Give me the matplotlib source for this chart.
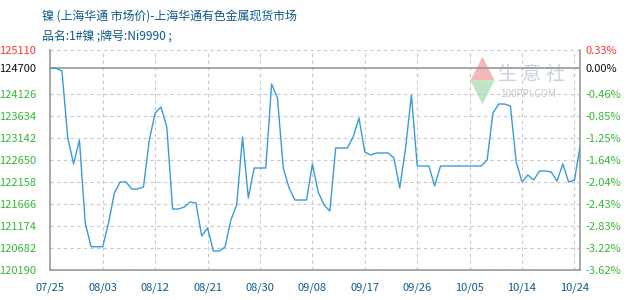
import matplotlib
matplotlib.use("Agg")
import matplotlib.pyplot as plt

plt.rcParams["font.family"] = ["Noto Sans CJK SC", "DejaVu Sans"]

# daily nickel price, 07/25 .. 10/25
values = [
    124700, 124700, 124640, 123142, 122561, 123097, 121241, 120711, 120711, 120711,
    121241, 121912, 122158, 122158, 122001, 122001, 122046, 123097, 123701, 123835,
    123388, 121554, 121554, 121599, 121711, 121689, 120950, 121129, 120615, 120615,
    120704, 121308, 121644, 123164, 121800, 122471, 122471, 122471, 124350, 124037,
    122471, 122024, 121755, 121755, 121755, 122561, 121934, 121644, 121509, 122918,
    122918, 122918, 123164, 123589, 122829, 122762, 122807, 122807, 122807, 122695,
    122024, 122918, 124104, 122516, 122516, 122516, 122069, 122516, 122516, 122516,
    122516, 122516, 122516, 122516, 122516, 122650, 123701, 123902, 123902, 123858,
    122605, 122158, 122315, 122203, 122404, 122404, 122382, 122180, 122561, 122158,
    122203, 122986,
]
tick_labels = ["07/25", "08/03", "08/12", "08/21", "08/30", "09/08",
               "09/17", "09/26", "10/05", "10/14", "10/24"]
base_price = 124700
y_top = 125110
y_bottom = 120190
y_green = [124126, 123634, 123142, 122650, 122158, 121666, 121174, 120682, 120190]
pct_labels = ["0.33%", "0.00%", "-0.46%", "-0.85%", "-1.25%", "-1.64%",
              "-2.04%", "-2.43%", "-2.83%", "-3.22%", "-3.62%"]

title = "镍 (上海华通 市场价)-上海华通有色金属现货市场"
subtitle = "品名:1#镍 ;牌号:Ni9990 ;"

fig = plt.figure(figsize=(6.3, 3.0), dpi=100)
ax = fig.add_axes([50.3 / 630, 0.1, 530 / 630, 220 / 300])

x = list(range(len(values)))
ax.plot(x, values, color="#3a9bd8", linewidth=1.0, zorder=3)

ax.set_xlim(0, len(values) - 1)
ax.set_ylim(y_bottom, y_top)

grid_kw = dict(color="#c8c8c8", linewidth=0.8, linestyle=(0, (3, 3)), zorder=1)
for yv in [y_top] + y_green[:-1]:
    ax.axhline(yv, **grid_kw)
ax.axhline(base_price, color="#999999", linewidth=1.2, zorder=2)
tick_pos = list(range(0, 9 * len(tick_labels), 9))
for xv in tick_pos[1:]:
    ax.axvline(xv, **grid_kw)

for s in ["left", "bottom", "right"]:
    ax.spines[s].set_color("#999999")
    ax.spines[s].set_linewidth(1.2)
ax.spines["top"].set_visible(False)

ax.set_xticks(tick_pos)
ax.set_xticklabels(tick_labels, color="#0d5a8a", fontsize=8)
ax.tick_params(axis="x", length=0, pad=9)

left_ticks = [y_top, base_price] + y_green
ax.set_yticks(left_ticks)
ax.set_yticklabels([str(v) for v in left_ticks], fontsize=8)
ax.tick_params(axis="y", length=0, pad=10)
colors = ["#ff3333", "#111111"] + ["#33b833"] * len(y_green)
for lbl, c in zip(ax.get_yticklabels(), colors):
    lbl.set_color(c)

ax2 = ax.twinx()
ax2.set_ylim(ax.get_ylim())
ax2.set_yticks(left_ticks)
ax2.set_yticklabels(pct_labels, fontsize=8)
ax2.tick_params(axis="y", length=0, pad=4)
for lbl, c in zip(ax2.get_yticklabels(), colors):
    lbl.set_color(c)
for s in ax2.spines.values():
    s.set_visible(False)

# watermark
ax.scatter([0.815], [0.92], marker="^", s=300, color="#f4b8b8", transform=ax.transAxes,
           zorder=0, linewidths=0)
ax.scatter([0.815], [0.81], marker="v", s=300, color="#bfe6c4", transform=ax.transAxes,
           zorder=0, linewidths=0)
ax.text(0.845, 0.89, "生 意 社", transform=ax.transAxes, fontsize=14, color="#c9d0e2",
        va="center", ha="left", zorder=0)
ax.text(0.848, 0.80, "100PPI.COM", transform=ax.transAxes, fontsize=7, color="#c8c8c8",
        va="center", ha="left", zorder=0)

fig.text(42 / 630, 1 - 16 / 300, title, fontsize=8.6, color="#0d5a8a", va="center", ha="left")
fig.text(42 / 630, 1 - 36 / 300, subtitle, fontsize=8.6, color="#0d5a8a", va="center", ha="left")

fig.savefig("out.png", dpi=100)
